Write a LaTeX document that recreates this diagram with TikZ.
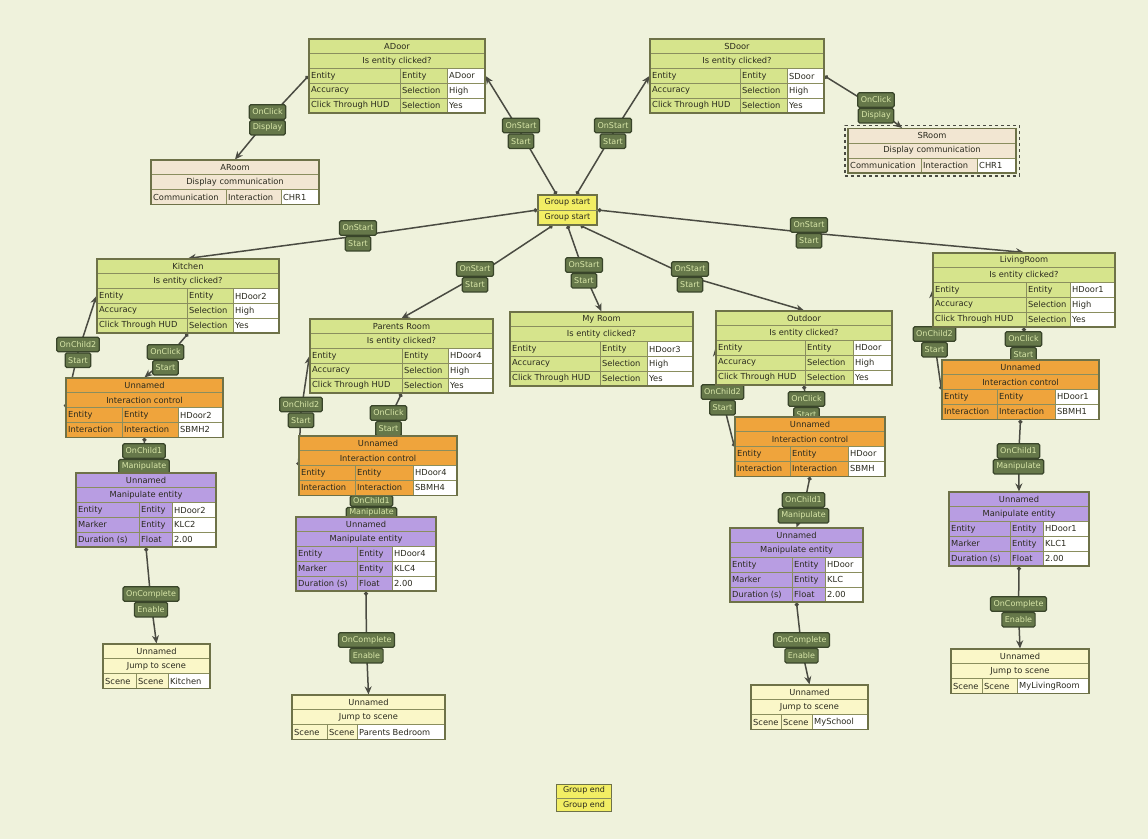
\documentclass[tikz,border=0pt]{standalone}
\usepackage{fontspec}
\setmainfont{DejaVu Sans}
\usepackage{xcolor}
\usetikzlibrary{arrows.meta, fit}

\definecolor{paper}{HTML}{EFF2DC}
\definecolor{scenegreen}{HTML}{D6E48C}
\definecolor{displaybeige}{HTML}{F2E6D2}
\definecolor{ctrlorange}{HTML}{EFA43C}
\definecolor{manipurple}{HTML}{B89DE2}
\definecolor{jumpyellow}{HTML}{FAF7C8}
\definecolor{groupyellow}{HTML}{F2EE64}
\definecolor{linkgreen}{HTML}{66784A}
\definecolor{linktext}{HTML}{D8E6A8}
\definecolor{linkedge}{HTML}{39452A}
\definecolor{cellline}{HTML}{8A8E5E}
\definecolor{frameline}{HTML}{6E7248}
\definecolor{wirec}{HTML}{4A4B42}
\definecolor{ink}{HTML}{2A2A1E}

\pgfdeclarelayer{background}
\pgfdeclarelayer{edges}
\pgfsetlayers{background,edges,main}

\newcommand{\tabfont}{\fontsize{8.3}{9}\selectfont}
\newcommand{\linkfont}{\fontsize{8}{9}\selectfont}
\newcommand{\rowh}{14.8}

% table head: name, colour, left, top, 2nd column, 3rd column, right, title, subtitle
\newcommand{\gtable}[9]{%
  \gdef\tabname{#1}\gdef\tabfill{#2}%
  \gdef\tabL{#3}\gdef\tabT{#4}\gdef\tabA{#5}\gdef\tabB{#6}\gdef\tabR{#7}%
  \draw[cell, fill=#2] (#3,#4) rectangle (#7,#4+\rowh);
  \draw[cell, fill=#2] (#3,#4+\rowh) rectangle (#7,#4+2*\rowh);
  \node[headtext] at ({(#3+#7)/2},#4+0.5*\rowh) {#8};
  \node[headtext] at ({(#3+#7)/2},#4+1.5*\rowh) {#9};
}
% table rows, then the named frame round the whole table
\newcommand{\grows}[1]{%
  \foreach \ca/\cb/\cc [count=\i from 2] in {#1}{
    \pgfmathsetmacro{\ytop}{\tabT+\i*\rowh}
    \draw[cell, fill=\tabfill] (\tabL,\ytop) rectangle (\tabA,\ytop+\rowh);
    \draw[cell, fill=\tabfill] (\tabA,\ytop) rectangle (\tabB,\ytop+\rowh);
    \draw[cell, fill=white] (\tabB,\ytop) rectangle (\tabR,\ytop+\rowh);
    \node[celltext] at (\tabL,\ytop+0.5*\rowh) {\ca};
    \node[celltext] at (\tabA,\ytop+0.5*\rowh) {\cb};
    \node[celltext] at (\tabB,\ytop+0.5*\rowh) {\cc};
    \xdef\tabN{\i}
  }
  \node[tabframe, fit={(\tabL,\tabT) (\tabR,\tabT+\tabN*\rowh+\rowh)}] (\tabname) {};
}
% link label: [options], name, x, y, event, action
\newcommand{\glink}[6][]{%
  \node[linkbox, #1] (#2) at (#3,#4) {#5};
  \node[linkbox, #1, anchor=north] (#2-b) at (#2.south) {#6};
}

\begin{document}
\begin{tikzpicture}[x=1pt, y=-1pt,
    cell/.style={draw=cellline, line width=0.9pt},
    celltext/.style={anchor=west, inner xsep=2pt, inner ysep=0pt, text=ink, font=\tabfont},
    headtext/.style={inner sep=0pt, text=ink, font=\tabfont},
    tabframe/.style={draw=frameline, line width=1.2pt, inner sep=0pt},
    selframe/.style={draw=wirec, dashed, line width=1.2pt, inner sep=2.5pt},
    linkbox/.style={draw=linkedge, fill=linkgreen, text=linktext, line width=1.2pt,
      rounded corners=1.5pt, inner xsep=3pt, inner ysep=0pt, minimum height=14.5pt, font=\linkfont},
    groupbox/.style={draw=frameline, fill=groupyellow, line width=1.2pt, align=center,
      text=ink, font=\fontsize{8}{14.5}\selectfont, inner sep=0pt},
    link/.style={draw=wirec, line width=1.5pt, {Circle[length=4pt]}-{Stealth[length=8pt, width=7pt]}}]

  \useasboundingbox (0,0) rectangle (1148,839);
  \begin{pgfonlayer}{background}
    \fill[paper] (0,0) rectangle (1148,839);
  \end{pgfonlayer}

  % link labels
  \glink{lA}{521}{125.5}{OnStart}{Start}
  \glink{lS}{613}{125.5}{OnStart}{Start}
  \glink{lAR}{267.5}{112}{OnClick}{Display}
  \glink{lSR}{876}{100}{OnClick}{Display}
  \glink{lK}{358}{228}{OnStart}{Start}
  \glink{lP}{475}{269}{OnStart}{Start}
  \glink{lM}{584}{265}{OnStart}{Start}
  \glink{lO}{690}{269}{OnStart}{Start}
  \glink{lL}{809}{225}{OnStart}{Start}
  \glink{lKr}{78}{344.5}{OnChild2}{Start}
  \glink{lKc}{165.5}{352}{OnClick}{Start}
  \glink{lKm}{144}{451}{OnChild1}{Manipulate}
  \glink{lKe}{151}{594}{OnComplete}{Enable}
  \glink{lPr}{301}{404.5}{OnChild2}{Start}
  \glink{lPc}{388.5}{413}{OnClick}{Start}
  \glink[minimum height=10.5pt]{lPm}{371.5}{501}{OnChild1}{Manipulate}
  \glink{lPe}{366.5}{640}{OnComplete}{Enable}
  \glink{lOr}{722.5}{392}{OnChild2}{Start}
  \glink{lOc}{806.5}{399}{OnClick}{Start}
  \glink{lOm}{803.5}{500}{OnChild1}{Manipulate}
  \glink{lOe}{801.5}{640}{OnComplete}{Enable}
  \glink{lLr}{934.5}{334}{OnChild2}{Start}
  \glink{lLc}{1023.5}{339}{OnClick}{Start}
  \glink{lLm}{1018.5}{451}{OnChild1}{Manipulate}
  \glink{lLe}{1018.5}{604}{OnComplete}{Enable}

  % group start / end
  \node[groupbox, minimum width=59pt, minimum height=30pt] (gstart) at (567.5,210) {Group start\\Group start};
  \draw[cell] (gstart.west) -- (gstart.east);
  \node[groupbox, minimum width=55pt, minimum height=27pt] (gend) at (584,798) {Group end\\Group end};
  \draw[cell] (gend.west) -- (gend.east);

  % doors at the top
  \gtable{adoor}{scenegreen}{309}{39}{400}{447}{485}{ADoor}{Is entity clicked?}
  \grows{Entity/Entity/ADoor, Accuracy/Selection/High, Click Through HUD/Selection/Yes}
  \gtable{sdoor}{scenegreen}{650}{39}{740}{787}{824}{SDoor}{Is entity clicked?}
  \grows{Entity/Entity/SDoor, Accuracy/Selection/High, Click Through HUD/Selection/Yes}
  \gtable{aroom}{displaybeige}{151}{160}{226}{281}{319}{ARoom}{Display communication}
  \grows{Communication/Interaction/CHR1}
  \gtable{sroom}{displaybeige}{848}{128.5}{921}{977}{1016}{SRoom}{Display communication}
  \grows{Communication/Interaction/CHR1}
  \node[selframe, fit=(sroom)] (sroomsel) {};

  % kitchen
  \gtable{kitchen}{scenegreen}{97}{259}{187}{233}{279}{Kitchen}{Is entity clicked?}
  \grows{Entity/Entity/HDoor2, Accuracy/Selection/High, Click Through HUD/Selection/Yes}
  \gtable{kctrl}{ctrlorange}{66}{378}{122}{178}{223}{Unnamed}{Interaction control}
  \grows{Entity/Entity/HDoor2, Interaction/Interaction/SBMH2}
  \gtable{kmanip}{manipurple}{76}{473}{139}{172}{216}{Unnamed}{Manipulate entity}
  \grows{Entity/Entity/HDoor2, Marker/Entity/KLC2, Duration (s)/Float/2.00}
  \gtable{kjump}{jumpyellow}{103}{644}{136}{168}{210}{Unnamed}{Jump to scene}
  \grows{Scene/Scene/Kitchen}

  % parents room
  \gtable{parents}{scenegreen}{310}{319}{402}{448}{493}{Parents Room}{Is entity clicked?}
  \grows{Entity/Entity/HDoor4, Accuracy/Selection/High, Click Through HUD/Selection/Yes}
  \gtable{pctrl}{ctrlorange}{299}{436}{355}{413}{457}{Unnamed}{Interaction control}
  \grows{Entity/Entity/HDoor4, Interaction/Interaction/SBMH4}
  \gtable{pmanip}{manipurple}{296}{517}{357}{392}{436}{Unnamed}{Manipulate entity}
  \grows{Entity/Entity/HDoor4, Marker/Entity/KLC4, Duration (s)/Float/2.00}
  \gtable{pjump}{jumpyellow}{292}{695}{327}{357}{445}{Unnamed}{Jump to scene}
  \grows{Scene/Scene/Parents Bedroom}

  % my room
  \gtable{myroom}{scenegreen}{510}{312}{600}{647}{693}{My Room}{Is entity clicked?}
  \grows{Entity/Entity/HDoor3, Accuracy/Selection/High, Click Through HUD/Selection/Yes}

  % outdoor
  \gtable{outdoor}{scenegreen}{716}{311}{805}{853}{892}{Outdoor}{Is entity clicked?}
  \grows{Entity/Entity/HDoor, Accuracy/Selection/High, Click Through HUD/Selection/Yes}
  \gtable{octrl}{ctrlorange}{735}{417}{790}{848}{885}{Unnamed}{Interaction control}
  \grows{Entity/Entity/HDoor, Interaction/Interaction/SBMH}
  \gtable{omanip}{manipurple}{730}{528}{792}{825}{863}{Unnamed}{Manipulate entity}
  \grows{Entity/Entity/HDoor, Marker/Entity/KLC, Duration (s)/Float/2.00}
  \gtable{ojump}{jumpyellow}{751}{685}{781}{812}{868}{Unnamed}{Jump to scene}
  \grows{Scene/Scene/MySchool}

  % living room
  \gtable{living}{scenegreen}{933}{253}{1026}{1070}{1115}{LivingRoom}{Is entity clicked?}
  \grows{Entity/Entity/HDoor1, Accuracy/Selection/High, Click Through HUD/Selection/Yes}
  \gtable{lctrl}{ctrlorange}{942}{360}{997}{1055}{1099}{Unnamed}{Interaction control}
  \grows{Entity/Entity/HDoor1, Interaction/Interaction/SBMH1}
  \gtable{lmanip}{manipurple}{949}{492}{1010}{1043}{1089}{Unnamed}{Manipulate entity}
  \grows{Entity/Entity/HDoor1, Marker/Entity/KLC1, Duration (s)/Float/2.00}
  \gtable{ljump}{jumpyellow}{951}{649}{982}{1017}{1089}{Unnamed}{Jump to scene}
  \grows{Scene/Scene/MyLivingRoom}

  % ports
  \coordinate (gsA) at ([xshift=-11pt]gstart.north);
  \coordinate (gsS) at ([xshift=9pt]gstart.north);
  \coordinate (gsP) at ([xshift=-15pt]gstart.south);
  \coordinate (gsM) at (gstart.south);
  \coordinate (gsO) at ([xshift=13pt]gstart.south);
  \coordinate (srIn) at ([xshift=-30pt]sroom.north);

  % connectors, under everything
  \begin{pgfonlayer}{edges}
    \foreach \s/\l/\t in {gsA/lA/adoor.east, gsS/lS/sdoor.west,
        adoor.west/lAR/aroom.north, sdoor.east/lSR/srIn,
        gstart.west/lK/kitchen.north, gsP/lP/parents.north, gsM/lM/myroom.north,
        gsO/lO/outdoor.north, gstart.east/lL/living.north,
        kitchen.south/lKc/kctrl.north, kctrl.west/lKr/kitchen.west,
        kctrl.south/lKm/kmanip.north, kmanip.south/lKe/kjump.north,
        parents.south/lPc/pctrl.north, pctrl.west/lPr/parents.west,
        pctrl.south/lPm/pmanip.north, pmanip.south/lPe/pjump.north,
        outdoor.south/lOc/octrl.north, octrl.west/lOr/outdoor.west,
        octrl.south/lOm/omanip.north, omanip.south/lOe/ojump.north,
        living.south/lLc/lctrl.north, lctrl.west/lLr/living.west,
        lctrl.south/lLm/lmanip.north, lmanip.south/lLe/ljump.north}
      \draw[link] (\s) -- (\l-b.north) -- (\t);
  \end{pgfonlayer}
\end{tikzpicture}
\end{document}
